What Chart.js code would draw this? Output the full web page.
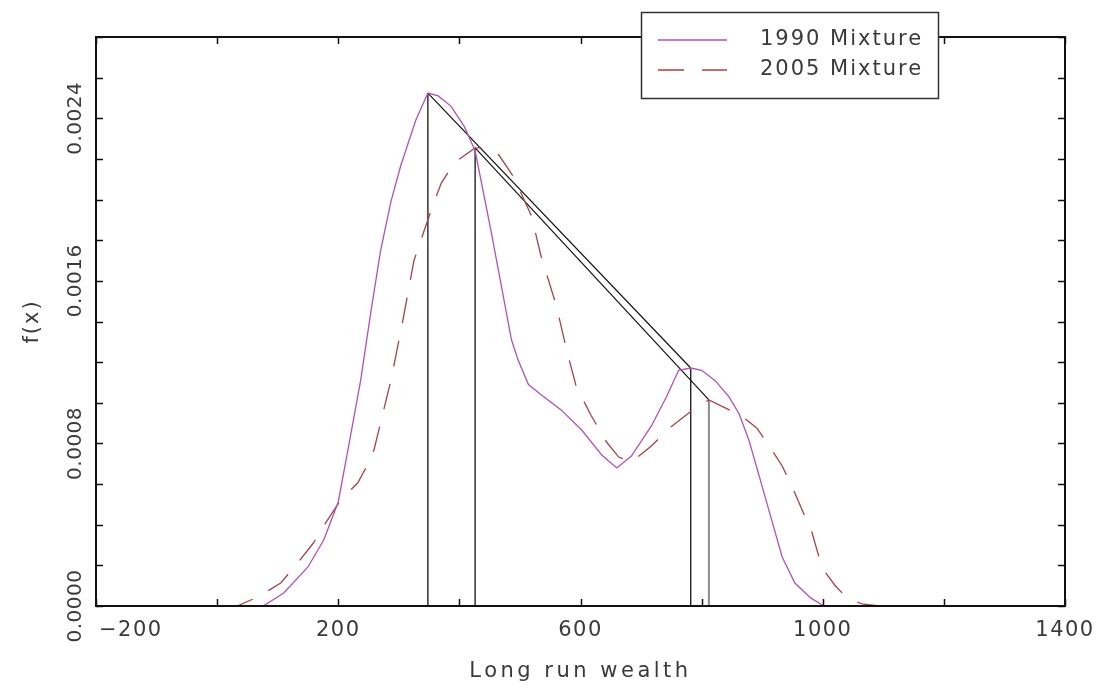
<!DOCTYPE html>
<html>
<head>
<meta charset="utf-8">
<script src="https://cdn.jsdelivr.net/npm/chart.js@4.4.1/dist/chart.umd.min.js"></script>
<style>
  html, body { margin: 0; padding: 0; background: #fff; }
  canvas { display: block; }
</style>
</head>
<body>
<canvas id="wealthChart" width="1098" height="687"></canvas>
<script>
// 1990 mixture density (solid)
const x1990 = [-200, -100, 0, 50, 76, 110, 150, 176, 200, 216, 237, 254, 270, 287, 303, 328, 348, 365, 386, 408, 426,
  452, 469, 486, 497, 514, 535, 568, 602, 635, 660, 684, 717, 742, 762, 782, 800, 822, 845, 862, 878, 895,
  911, 933, 954, 980, 1002, 1100, 1250];
const y1990 = [0, 0, 0, 0, 0, 0.000064, 0.000192, 0.000325, 0.000512, 0.000768, 0.00111, 0.00145, 0.00175, 0.00199, 0.002165,
  0.00239, 0.002524, 0.00251, 0.00246, 0.00236, 0.00224, 0.00185, 0.00158, 0.00131, 0.00121, 0.00109,
  0.00104, 0.000965, 0.000866, 0.000743, 0.000679, 0.000738, 0.000886, 0.00103, 0.00116, 0.001171, 0.00116,
  0.00111, 0.00103, 0.000945, 0.000817, 0.00064, 0.000472, 0.000241, 0.000113, 0.00004, 0, 0, 0];

// 2005 mixture density (dashed)
const x2005 = [-200, 0, 33, 67, 105, 133, 159, 179, 204, 232, 250, 259, 287, 307, 325, 356, 370, 391, 426,
  445, 465, 490, 519, 535, 560, 577, 593, 618, 643, 663, 684, 717, 747, 789, 812, 866, 891, 916, 933, 949,
  966, 982, 999, 1021, 1040, 1065, 1093, 1250];
const y2005 = [0, 0, 0, 0.000044, 0.000113, 0.000212, 0.00031, 0.000408, 0.000522, 0.000605, 0.000704,
  0.000768, 0.00111, 0.00141, 0.0017, 0.00197, 0.00208, 0.00218, 0.002254, 0.002254, 0.00222, 0.00211,
  0.00192, 0.00172, 0.00148, 0.00126, 0.00108, 0.000935, 0.000807, 0.000733, 0.000709, 0.000787, 0.000876,
  0.000974, 0.001014, 0.000935, 0.000876, 0.000768, 0.000689, 0.00059, 0.000472, 0.000364, 0.000187,
  0.0000984, 0.0000394, 0.00001, 0, 0];

// modes of each mixture, joined by the black lines
const peakX1990 = [348, 782];
const peakY1990 = [0.002524, 0.001171];
const peakX2005 = [426, 812];
const peakY2005 = [0.002254, 0.001014];

const seriesNames = ['1990 Mixture', '2005 Mixture'];
const xLabelValues = [-200, 200, 600, 1000, 1400];
const yLabelValues = [0, 0.0008, 0.0016, 0.0024];

const FONT = '"DejaVu Sans", sans-serif';
const TEXT = '#3a3a3a';

function toPoints(xs, ys) {
  return xs.map((x, i) => ({ x: x, y: ys[i] }));
}

// vertical drop lines from the modes and the lines joining them
const peakLines = [];
peakX1990.forEach((x, i) => {
  peakLines.push({ data: [{ x: x, y: 0 }, { x: x, y: peakY1990[i] }], borderColor: '#111', borderWidth: 1.3 });
});
peakX2005.forEach((x, i) => {
  peakLines.push({ data: [{ x: x, y: 0 }, { x: x, y: peakY2005[i] }],
    borderColor: i === 1 ? '#8c8c8c' : '#111', borderWidth: i === 1 ? 2 : 1.3 });
});
peakLines.push({ data: toPoints(peakX1990, peakY1990), borderColor: '#111', borderWidth: 1.2 });
peakLines.push({ data: toPoints(peakX2005, peakY2005), borderColor: '#111', borderWidth: 1.2 });

// box, inward ticks, tick labels, titles and the boxed legend
const framePlugin = {
  id: 'frame',
  afterDatasetsDraw(chart) {
    const { ctx, chartArea: a, scales: { x, y } } = chart;
    ctx.save();

    ctx.strokeStyle = '#111';
    ctx.lineWidth = 1.5;
    ctx.beginPath();
    x.ticks.forEach(t => {
      const px = Math.round(x.getPixelForValue(t.value)) + 0.5;
      ctx.moveTo(px, a.bottom); ctx.lineTo(px, a.bottom - 7);
      ctx.moveTo(px, a.top); ctx.lineTo(px, a.top + 7);
    });
    y.ticks.forEach(t => {
      const py = Math.round(y.getPixelForValue(t.value)) + 0.5;
      ctx.moveTo(a.left, py); ctx.lineTo(a.left + 7, py);
      ctx.moveTo(a.right, py); ctx.lineTo(a.right - 7, py);
    });
    ctx.stroke();
    ctx.lineWidth = 2;
    ctx.strokeRect(a.left, a.top, a.right - a.left, a.bottom - a.top);

    ctx.fillStyle = TEXT;
    ctx.textBaseline = 'middle';

    // x tick labels
    ctx.font = '21px ' + FONT;
    ctx.letterSpacing = '1.5px';
    xLabelValues.forEach((v, i) => {
      const label = String(v).replace('-', '\u2212');
      if (i === 0) {
        ctx.textAlign = 'left';
        ctx.fillText(label, x.getPixelForValue(v) + 3, a.bottom + 25);
      } else {
        ctx.textAlign = 'center';
        ctx.fillText(label, x.getPixelForValue(v), a.bottom + 25);
      }
    });

    // y tick labels, rotated
    ctx.font = '20px ' + FONT;
    ctx.letterSpacing = '0.5px';
    ctx.textAlign = 'center';
    yLabelValues.forEach(v => {
      ctx.save();
      ctx.translate(a.left - 20, y.getPixelForValue(v));
      ctx.rotate(-Math.PI / 2);
      ctx.fillText(v.toFixed(4), 0, 0);
      ctx.restore();
    });

    // axis titles
    ctx.font = '21px ' + FONT;
    ctx.letterSpacing = '3.5px';
    ctx.fillText('Long run wealth', (a.left + a.right) / 2, a.bottom + 66);
    ctx.letterSpacing = '2px';
    ctx.save();
    ctx.translate(33, (a.top + a.bottom) / 2);
    ctx.rotate(-Math.PI / 2);
    ctx.fillText('f(x)', 0, 0);
    ctx.restore();

    // legend
    ctx.fillStyle = '#fff';
    ctx.fillRect(641, 12, 298, 87);
    ctx.strokeStyle = '#333';
    ctx.lineWidth = 1.5;
    ctx.strokeRect(641.5, 12.5, 297, 86);
    seriesNames.forEach((name, i) => {
      const ds = chart.data.datasets[i];
      const ly = 40 + i * 30;
      ctx.save();
      ctx.strokeStyle = ds.borderColor;
      ctx.lineWidth = ds.borderWidth;
      ctx.setLineDash(ds.borderDash || []);
      ctx.beginPath();
      ctx.moveTo(658, ly); ctx.lineTo(727, ly);
      ctx.stroke();
      ctx.restore();
      ctx.fillStyle = TEXT;
      ctx.textAlign = 'left';
      ctx.letterSpacing = '2px';
      ctx.fillText(name, 760, ly);
    });

    ctx.restore();
  }
};

const ctx = document.getElementById('wealthChart').getContext('2d');

new Chart(ctx, {
  type: 'line',
  data: {
    datasets: [{
      label: seriesNames[0],
      data: toPoints(x1990, y1990),
      borderColor: '#b450b8',
      borderWidth: 1.3
    }, {
      label: seriesNames[1],
      data: toPoints(x2005, y2005),
      borderColor: '#a8404a',
      borderWidth: 1.3,
      borderDash: [26, 18]
    }].concat(peakLines)
  },
  options: {
    responsive: false,
    animation: false,
    layout: { padding: { left: 96, top: 37, right: 33, bottom: 81 } },
    elements: { point: { radius: 0 }, line: { tension: 0 } },
    plugins: { legend: { display: false }, tooltip: { enabled: false } },
    scales: {
      x: {
        type: 'linear', min: -200, max: 1400,
        ticks: { stepSize: 200, display: false },
        grid: { display: false, drawTicks: false },
        border: { display: false }
      },
      y: {
        type: 'linear', min: 0, max: 0.0028,
        ticks: { stepSize: 0.0002, display: false },
        grid: { display: false, drawTicks: false },
        border: { display: false }
      }
    }
  },
  plugins: [framePlugin]
});
</script>
</body>
</html>
